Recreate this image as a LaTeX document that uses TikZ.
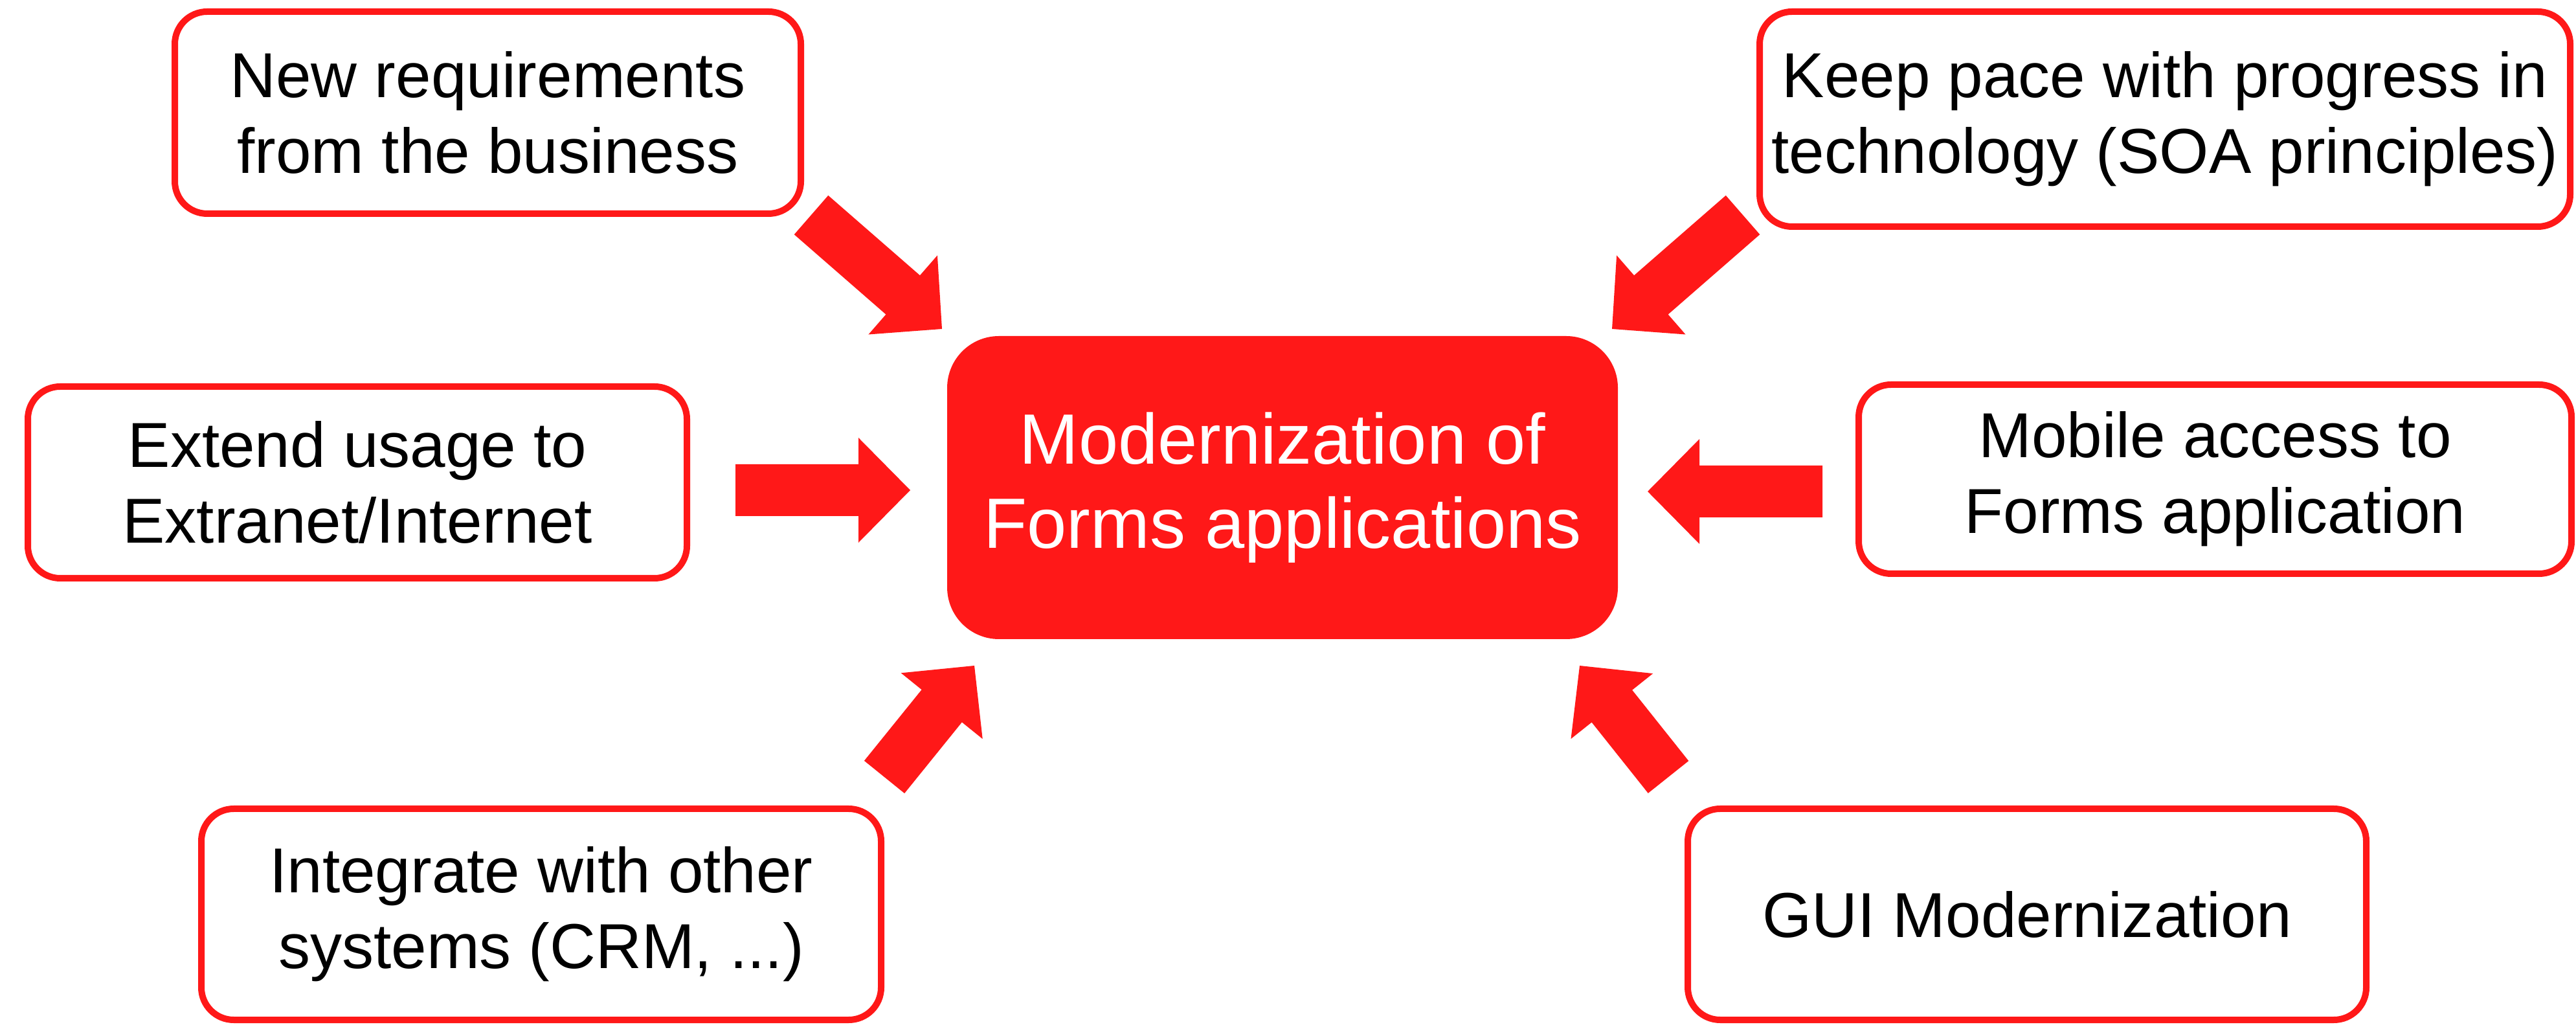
\documentclass[tikz,border=0pt]{standalone}
\usepackage{fontspec}
\setmainfont{Liberation Sans}
\usepackage{tikz}
\usetikzlibrary{calc}

\definecolor{alertred}{RGB}{255,24,24}

% block arrow from tail coordinate to tip coordinate
\newcommand{\blockarrow}[2]{%
  \coordinate (hb) at ($(#2)!0.8cm!(#1)$);
  \fill[alertred] ($(#1)!0.4cm!90:(#2)$) -- ($(hb)!0.4cm!90:(#2)$)
    -- ($(hb)!0.81cm!90:(#2)$) -- (#2) -- ($(hb)!0.81cm!-90:(#2)$)
    -- ($(hb)!0.4cm!-90:(#2)$) -- ($(#1)!0.4cm!-90:(#2)$) -- cycle;
}

\begin{document}
\begin{tikzpicture}[
    goal/.style={rectangle, draw=alertred, line width=1mm, fill=white, rounded corners=0.5cm, align=center, font=\fontsize{27.9}{33.3}\selectfont},
    core/.style={rectangle, fill=alertred, text=white, rounded corners=0.8cm, align=center, minimum width=10.36cm, minimum height=4.68cm, font=\fontsize{31.3}{37}\selectfont}
]
\useasboundingbox (0,0) rectangle (39.79,15.85);

% Central goal
\node[core] (modern) at (19.81,8.32) {Modernization of\\Forms applications};

% Drivers
\node[goal, minimum width=9.67cm, minimum height=3.12cm] (business) at (7.535,14.11) {New requirements\\from the business};
\node[goal, minimum width=12.52cm, minimum height=3.32cm] (techno) at (33.44,14.01) {Keep pace with progress in\\technology (SOA principles)};
\node[goal, minimum width=10.18cm, minimum height=2.96cm] (extranet) at (5.52,8.40) {Extend usage to\\Extranet/Internet};
\node[goal, minimum width=11.01cm, minimum height=2.92cm] (mobile) at (34.215,8.45) {Mobile access to\\Forms application};
\node[goal, minimum width=10.50cm, minimum height=3.26cm] (integrate) at (8.36,1.73) {Integrate with other\\systems (CRM, ...)};
\node[goal, minimum width=10.48cm, minimum height=3.26cm] (gui) at (31.31,1.73) {GUI Modernization};

% Arrow ends
\coordinate (businessTail) at (12.53,12.53);  \coordinate (businessTip) at (14.55,10.77);
\coordinate (technoTail) at (26.92,12.53);    \coordinate (technoTip) at (24.90,10.77);
\coordinate (extranetTail) at (11.36,8.28);   \coordinate (extranetTip) at (14.06,8.28);
\coordinate (mobileTail) at (28.15,8.26);     \coordinate (mobileTip) at (25.45,8.26);
\coordinate (integrateTail) at (13.66,3.85);  \coordinate (integrateTip) at (15.05,5.57);
\coordinate (guiTail) at (25.77,3.85);        \coordinate (guiTip) at (24.40,5.57);

% Arrows into the goal
\blockarrow{businessTail}{businessTip}
\blockarrow{technoTail}{technoTip}
\blockarrow{extranetTail}{extranetTip}
\blockarrow{mobileTail}{mobileTip}
\blockarrow{integrateTail}{integrateTip}
\blockarrow{guiTail}{guiTip}

\end{tikzpicture}
\end{document}
